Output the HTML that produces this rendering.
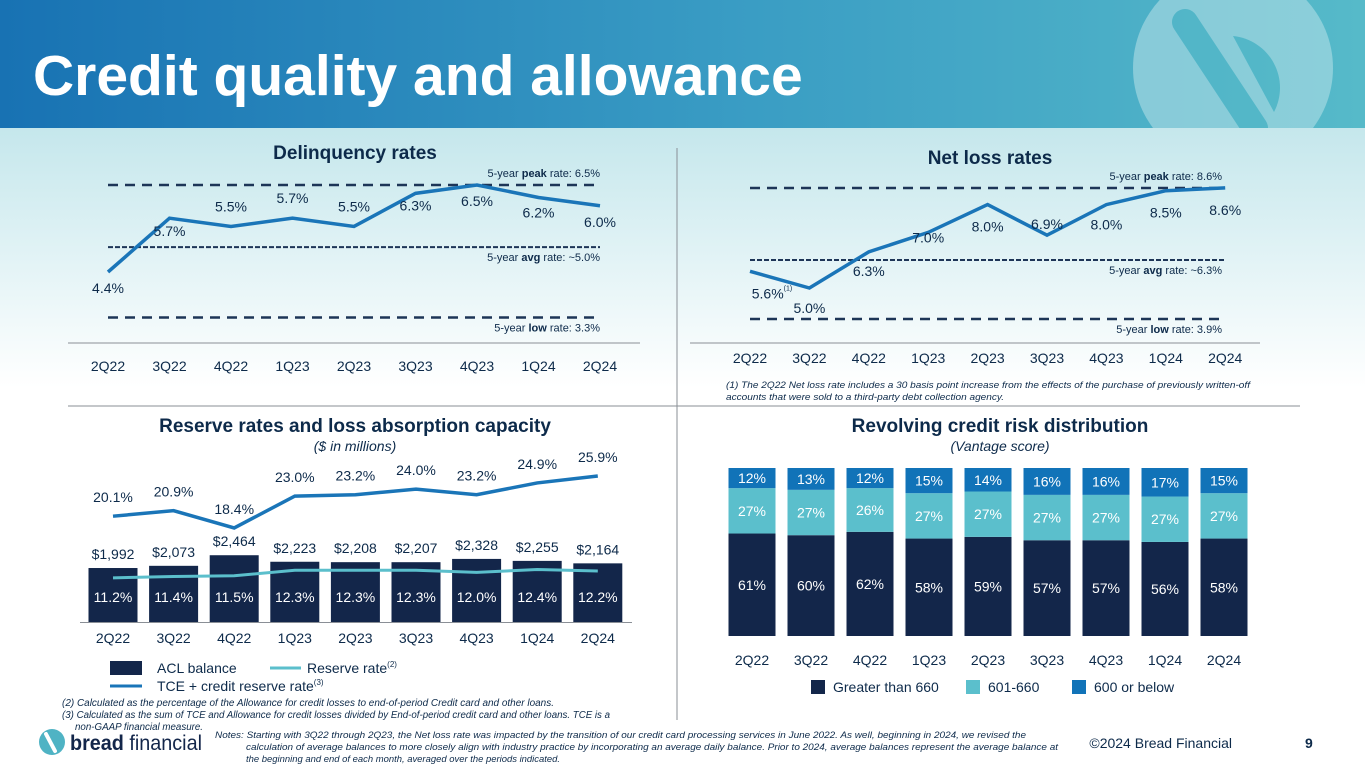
<!DOCTYPE html>
<html><head><meta charset="utf-8"><style>
body{margin:0;width:1365px;height:768px;overflow:hidden;font-family:"Liberation Sans",sans-serif;background:#fff}
svg text{font-family:"Liberation Sans",sans-serif}
</style></head><body>
<svg id="s" width="1365" height="768" viewBox="0 0 1365 768">
<defs>
<linearGradient id="hdr" x1="0" x2="1" y1="0" y2="0"><stop offset="0" stop-color="#1872b3"/><stop offset="0.55" stop-color="#3a9dc4"/><stop offset="1" stop-color="#56bac9"/></linearGradient>
<linearGradient id="bg" x1="0" x2="0" y1="0" y2="1"><stop offset="0" stop-color="#c5e7ec"/><stop offset="1" stop-color="#ffffff"/></linearGradient>
</defs>
<rect x="0" y="128" width="1365" height="260" fill="url(#bg)"/>
<rect x="0" y="0" width="1365" height="128" fill="url(#hdr)"/>
<g opacity="0.55">
<clipPath id="hc"><rect x="0" y="0" width="1365" height="128"/></clipPath>
<g clip-path="url(#hc)">
<circle cx="1233" cy="68" r="100" fill="#b9e2e8"/>
<line x1="1185" y1="22" x2="1255" y2="128" stroke="#56bac9" stroke-width="26" stroke-linecap="round"/>
<path d="M1233 36 A52 52 0 0 1 1274 112 Z" fill="#56bac9"/>
</g></g>
<text x="33" y="95" font-size="57" font-weight="bold" fill="#fff">Credit quality and allowance</text>

<line x1="677" y1="148" x2="677" y2="720" stroke="#8a8f96" stroke-width="1"/>
<line x1="68" y1="406" x2="1300" y2="406" stroke="#8a8f96" stroke-width="1"/>

<g id="g1"></g>
<g id="g2"></g>
<g id="g3"></g>
<g id="g4"></g>

<text x="726" y="388" font-size="9.5" font-style="italic" fill="#0d2a4a" textLength="524" lengthAdjust="spacingAndGlyphs">(1) The 2Q22 Net loss rate includes a 30 basis point increase from the effects of the purchase of previously written-off</text>
<text x="726" y="400" font-size="9.5" font-style="italic" fill="#0d2a4a" textLength="278" lengthAdjust="spacingAndGlyphs">accounts that were sold to a third-party debt collection agency.</text>

<g>
<rect x="110" y="661" width="32" height="14" fill="#13264a"/>
<text x="157" y="673" font-size="14" fill="#0d2a4a">ACL balance</text>
<line x1="270" y1="668" x2="301" y2="668" stroke="#5bbfcc" stroke-width="3"/>
<text x="307" y="673" font-size="14" fill="#0d2a4a">Reserve rate<tspan font-size="8" dy="-6">(2)</tspan></text>
<line x1="110" y1="686" x2="142" y2="686" stroke="#1a75b8" stroke-width="3"/>
<text x="157" y="691" font-size="14" fill="#0d2a4a">TCE + credit reserve rate<tspan font-size="8" dy="-6">(3)</tspan></text>
</g>
<g font-size="10" font-style="italic" fill="#0d2a4a">
<text x="62" y="706" textLength="492" lengthAdjust="spacingAndGlyphs">(2) Calculated as the percentage of the Allowance for credit losses to end-of-period Credit card and other loans.</text>
<text x="62" y="718" textLength="548" lengthAdjust="spacingAndGlyphs">(3) Calculated as the sum of TCE and Allowance for credit losses divided by End-of-period credit card and other loans. TCE is a</text>
<text x="75" y="730" textLength="128" lengthAdjust="spacingAndGlyphs">non-GAAP financial measure.</text>
</g>
<g>
<rect x="811" y="680" width="14" height="14" fill="#13264a"/><text x="833" y="692" font-size="14" fill="#0d2a4a">Greater than 660</text>
<rect x="966" y="680" width="14" height="14" fill="#5bbfcc"/><text x="988" y="692" font-size="14" fill="#0d2a4a">601-660</text>
<rect x="1072" y="680" width="14" height="14" fill="#1173b8"/><text x="1094" y="692" font-size="14" fill="#0d2a4a">600 or below</text>
</g>
<g>
<circle cx="52" cy="742" r="13" fill="#4fb3c4"/>
<line x1="46" y1="734" x2="55" y2="751" stroke="#fff" stroke-width="4" stroke-linecap="round"/>
<text x="70" y="750" font-size="21" font-weight="bold" fill="#13264a" textLength="132" lengthAdjust="spacingAndGlyphs">bread <tspan font-weight="normal">financial</tspan></text>
</g>
<g font-size="9.5" font-style="italic" fill="#0d2a4a">
<text x="215" y="738" textLength="811" lengthAdjust="spacingAndGlyphs">Notes: Starting with 3Q22 through 2Q23, the Net loss rate was impacted by the transition of our credit card processing services in June 2022.  As well, beginning in 2024, we revised the</text>
<text x="246" y="750" textLength="812" lengthAdjust="spacingAndGlyphs">calculation of average balances to more closely align with industry practice by incorporating an average daily balance. Prior to 2024, average balances represent the average balance at</text>
<text x="246" y="762" textLength="314" lengthAdjust="spacingAndGlyphs">the beginning and end of each month, averaged over the periods indicated.</text>
</g>
<text x="1232" y="748" font-size="14" fill="#0d2a4a" text-anchor="end">©2024 Bread Financial</text>
<text x="1305" y="748" font-size="14" font-weight="bold" fill="#0d2a4a">9</text>
</svg>
<script>
const NS="http://www.w3.org/2000/svg";
const quarters=["2Q22","3Q22","4Q22","1Q23","2Q23","3Q23","4Q23","1Q24","2Q24"];
const delinq=[4.4,5.7,5.5,5.7,5.5,6.3,6.5,6.2,6.0];
const delinqRef=[6.5,5.0,3.3];
const netLoss=[5.6,5.0,6.3,7.0,8.0,6.9,8.0,8.5,8.6];
const netLossRef=[8.6,6.3,3.9];
const aclBalance=[1992,2073,2464,2223,2208,2207,2328,2255,2164];
const reserveRate=[11.2,11.4,11.5,12.3,12.3,12.3,12.0,12.4,12.2];
const tceRate=[20.1,20.9,18.4,23.0,23.2,24.0,23.2,24.9,25.9];
const riskHigh=[61,60,62,58,59,57,57,56,58];
const riskMid=[27,27,26,27,27,27,27,27,27];
const riskLow=[12,13,12,15,14,16,16,17,15];

function el(p,t,a,txt){const e=document.createElementNS(NS,t);for(const k in a)e.setAttribute(k,a[k]);if(txt!==undefined)e.textContent=txt;p.appendChild(e);return e;}
const NAVY="#0d2a4a",BLUE="#1a75b8";

// Delinquency
(function(){
 const g=document.getElementById('g1');
 const x=i=>108+i*61.5, y=v=>272-(v-4.4)*41.4;
 const t=el(g,'text',{x:355,y:159,'font-size':19,'font-weight':'bold',fill:NAVY,'text-anchor':'middle'},'Delinquency rates');
 
 const names=['peak','avg','low'];
 delinqRef.forEach((v,k)=>{
  const l=el(g,'line',{x1:108,x2:600,y1:y(v),y2:y(v),stroke:'#1d3557','stroke-width':k==1?2:2.5,'stroke-dasharray':k==1?'5 2':'10 7'});
  
  const lt=el(g,'text',{x:600,y:k==0?y(v)-8:y(v)+14,'font-size':11,fill:NAVY,'text-anchor':'end'});
  lt.innerHTML='5-year <tspan font-weight="bold">'+names[k]+'</tspan> rate: '+(k==1?'~':'')+v.toFixed(1)+'%';
  
 });
 const ax=el(g,'line',{x1:68,x2:640,y1:343,y2:343,stroke:'#8a8f96','stroke-width':1});
 
 const p=el(g,'polyline',{points:delinq.map((v,i)=>x(i)+','+y(v)).join(' '),fill:'none',stroke:BLUE,'stroke-width':3.5});
 
 const off=[21,18,-15,-15,-15,17,21,20,21];
 delinq.forEach((v,i)=>{
  const tt=el(g,'text',{x:x(i),y:y(v)+off[i],'font-size':14,fill:NAVY,'text-anchor':'middle'},v.toFixed(1)+'%');
  
 });
 quarters.forEach((q,i)=>{const tt=el(g,'text',{x:x(i),y:371,'font-size':14,fill:NAVY,'text-anchor':'middle'},q);
  });
})();

// Net loss
(function(){
 const g=document.getElementById('g2');
 const x=i=>750+i*59.4, y=v=>288-(v-5.0)*27.8;
 const t=el(g,'text',{x:990,y:164,'font-size':19,'font-weight':'bold',fill:NAVY,'text-anchor':'middle'},'Net loss rates');
 
 const names=['peak','avg','low'];const ly=[188,260,319];
 netLossRef.forEach((v,k)=>{
  const l=el(g,'line',{x1:750,x2:1225,y1:ly[k],y2:ly[k],stroke:'#1d3557','stroke-width':k==1?2:2.5,'stroke-dasharray':k==1?'5 2':'10 7'});
  
  const lt=el(g,'text',{x:1222,y:k==0?ly[k]-8:ly[k]+14,'font-size':11,fill:NAVY,'text-anchor':'end'});
  lt.innerHTML='5-year <tspan font-weight="bold">'+names[k]+'</tspan> rate: '+(k==1?'~':'')+v.toFixed(1)+'%';
  
 });
 const ax=el(g,'line',{x1:690,x2:1260,y1:343,y2:343,stroke:'#8a8f96','stroke-width':1});
 
 const p=el(g,'polyline',{points:netLoss.map((v,i)=>x(i)+','+y(v)).join(' '),fill:'none',stroke:BLUE,'stroke-width':3.5});
 
 const dx=[22,0,0,0,0,0,0,0,0];
 const off=[27,25,24,10,27,-6,25,27,27];
 netLoss.forEach((v,i)=>{
  const tt=el(g,'text',{x:x(i)+dx[i],y:y(v)+off[i],'font-size':14,fill:NAVY,'text-anchor':'middle'},v.toFixed(1)+'%');
  if(i==0){el(tt,'tspan',{'font-size':7,dy:-8},'(1)');}
  
 });
 quarters.forEach((q,i)=>{const tt=el(g,'text',{x:x(i),y:363,'font-size':14,fill:NAVY,'text-anchor':'middle'},q);
  });
})();

// Reserve
(function(){
 const g=document.getElementById('g3');
 const x=i=>113+i*60.6, base=622, h=v=>v*0.0271, y=v=>476+(25.9-v)*6.93;
 const t=el(g,'text',{x:355,y:432,'font-size':19,'font-weight':'bold',fill:NAVY,'text-anchor':'middle'},'Reserve rates and loss absorption capacity');
 
 const st=el(g,'text',{x:355,y:451,'font-size':14,'font-style':'italic',fill:NAVY,'text-anchor':'middle'},'($ in millions)');
 
 aclBalance.forEach((v,i)=>{
  const r=el(g,'rect',{x:x(i)-24.5,y:base-h(v),width:49,height:h(v),fill:'#13264a'});
  
  const tt=el(g,'text',{x:x(i),y:base-h(v)-9,'font-size':14,fill:NAVY,'text-anchor':'middle'},'$'+v.toLocaleString('en-US'));
  
 });
 const ax=el(g,'line',{x1:80,x2:632,y1:622.5,y2:622.5,stroke:'#8a8f96','stroke-width':1});
 
 const p1=el(g,'polyline',{points:reserveRate.map((v,i)=>x(i)+','+y(v)).join(' '),fill:'none',stroke:'#5bbfcc','stroke-width':3});
 
 const p2=el(g,'polyline',{points:tceRate.map((v,i)=>x(i)+','+y(v)).join(' '),fill:'none',stroke:BLUE,'stroke-width':3.5});
 
 reserveRate.forEach((v,i)=>{const tt=el(g,'text',{x:x(i),y:602,'font-size':14,fill:'#fff','text-anchor':'middle'},v.toFixed(1)+'%');
  });
 tceRate.forEach((v,i)=>{const tt=el(g,'text',{x:x(i),y:y(v)-14,'font-size':14,fill:NAVY,'text-anchor':'middle'},v.toFixed(1)+'%');
  });
 quarters.forEach((q,i)=>{const tt=el(g,'text',{x:x(i),y:643,'font-size':14,fill:NAVY,'text-anchor':'middle'},q);
  });
})();

// Revolving
(function(){
 const g=document.getElementById('g4');
 const x=i=>752+i*59, base=636, k=1.68;
 const t=el(g,'text',{x:1000,y:432,'font-size':19,'font-weight':'bold',fill:NAVY,'text-anchor':'middle'},'Revolving credit risk distribution');
 
 const st=el(g,'text',{x:1000,y:451,'font-size':14,'font-style':'italic',fill:NAVY,'text-anchor':'middle'},'(Vantage score)');
 
 quarters.forEach((q,i)=>{
  let y0=base;
  [[riskHigh,'#13264a','high'],[riskMid,'#5bbfcc','mid'],[riskLow,'#1173b8','low']].forEach(([arr,c,n])=>{
   const hh=arr[i]*k;
   const r=el(g,'rect',{x:x(i)-23.5,y:y0-hh,width:47,height:hh,fill:c});
   
   const tt=el(g,'text',{x:x(i),y:y0-hh/2+5,'font-size':14,fill:'#fff','text-anchor':'middle'},arr[i]+'%');
   
   y0-=hh;
  });
  const tt=el(g,'text',{x:x(i),y:665,'font-size':14,fill:NAVY,'text-anchor':'middle'},q);
  
 });
})();
</script>
</body></html>
